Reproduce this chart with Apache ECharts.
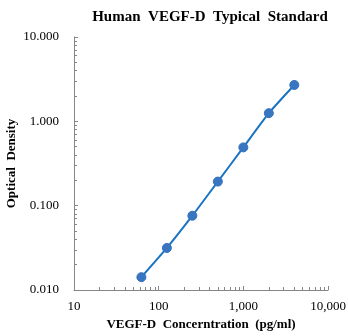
<!DOCTYPE html>
<html>
<head>
<meta charset="utf-8">
<script src="https://cdn.jsdelivr.net/npm/echarts@6/dist/echarts.min.js"></script>
<style>html,body{margin:0;padding:0;background:#fff}#c{width:348px;height:336px}</style>
</head>
<body>
<div id="c"></div>
<script>
const concentrations = [62.5, 125, 250, 500, 1000, 2000, 4000];
const opticalDensity = [0.0142, 0.0315, 0.0760, 0.193, 0.491, 1.25, 2.70];
const xMinorTicks = [20,30,40,50,60,70,80,90,200,300,400,500,600,700,800,900,2000,3000,4000,5000,6000,7000,8000,9000];
const yMinorTicks = [0.02,0.03,0.04,0.05,0.06,0.07,0.08,0.09,0.2,0.3,0.4,0.5,0.6,0.7,0.8,0.9,2,3,4,5,6,7,8,9];
const titleText = 'Human  VEGF-D  Typical  Standard';
const xName = 'VEGF-D  Concerntration  (pg/ml)';
const yName = 'Optical  Density';

const font = 'Liberation Serif';
const axisGray = '#878787';
const chart = echarts.init(document.getElementById('c'), null, {renderer: 'canvas'});
const grid = {left: 74, right: 20, top: 37, bottom: 46, containLabel: false, outerBoundsMode: 'none'};
function fmtX(v){ return Math.round(v).toLocaleString('en-US'); }
chart.setOption({
  animation: false,
  title: {text: titleText, left: 205, top: 5, textAlign: 'center',
    textStyle: {fontFamily: font, fontSize: 15, fontWeight: 'bold', color: '#000'}},
  grid: grid,
  xAxis: [{
    type: 'log', logBase: 10, min: 10, max: 10000,
    name: xName, nameLocation: 'middle', nameGap: 28, nameMoveOverlap: false,
    nameTextStyle: {fontFamily: font, fontSize: 13, fontWeight: 'bold', color: '#000'},
    axisLine: {lineStyle: {color: axisGray, width: 1}},
    axisTick: {inside: true, length: 4, lineStyle: {color: axisGray}},
    axisLabel: {fontFamily: font, fontSize: 13, color: '#000', margin: 10, formatter: fmtX},
    splitLine: {show: false}
  }, {
    type: 'log', logBase: 10, min: 10, max: 10000, position: 'bottom',
    axisLine: {show: false},
    axisTick: {inside: true, length: 3, customValues: xMinorTicks, lineStyle: {color: axisGray}},
    axisLabel: {show: false}, splitLine: {show: false}
  }],
  yAxis: [{
    type: 'log', logBase: 10, min: 0.01, max: 10,
    name: yName, nameLocation: 'middle', nameGap: 56, nameMoveOverlap: false,
    nameTextStyle: {fontFamily: font, fontSize: 13, fontWeight: 'bold', color: '#000'},
    axisLine: {show: true, lineStyle: {color: axisGray, width: 1}},
    axisTick: {show: true, inside: true, length: 4, lineStyle: {color: axisGray}},
    axisLabel: {fontFamily: font, fontSize: 13, color: '#000', margin: 15,
      formatter: v => Number(v).toFixed(3)},
    splitLine: {show: false}
  }, {
    type: 'log', logBase: 10, min: 0.01, max: 10, position: 'left',
    axisLine: {show: false},
    axisTick: {show: true, inside: true, length: 3, customValues: yMinorTicks, lineStyle: {color: axisGray}},
    axisLabel: {show: false}, splitLine: {show: false}
  }],
  series: [{
    type: 'line', xAxisIndex: 0, yAxisIndex: 0,
    data: concentrations.map((c, i) => [c, opticalDensity[i]]),
    smooth: 0.2,
    symbol: 'circle', symbolSize: 9,
    lineStyle: {color: '#1A74C2', width: 2},
    itemStyle: {color: '#3876C2', borderColor: '#3470BB', borderWidth: 1}
  }]
});
</script>
</body>
</html>
